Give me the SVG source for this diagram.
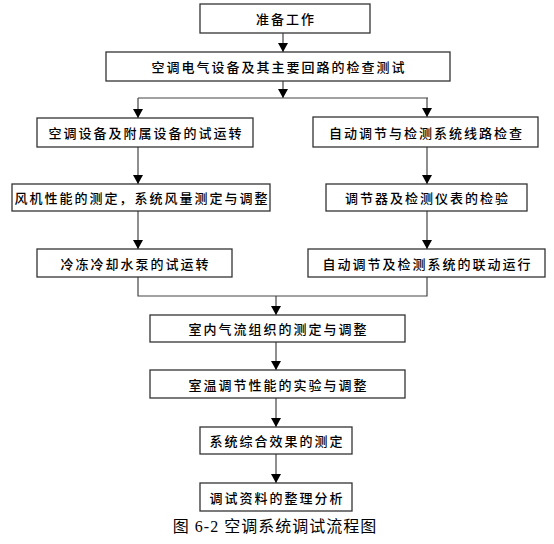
<svg xmlns="http://www.w3.org/2000/svg" width="554" height="544" viewBox="0 0 554 544">
<style>
.box{fill:#fff;stroke:#333;stroke-width:1.3}
.t{font-family:"Noto Sans CJK SC","Noto Sans CJK JP",sans-serif;font-size:13px;letter-spacing:2px;fill:#000;text-anchor:middle;dominant-baseline:central;font-weight:500}
.c{fill:none;stroke:#444;stroke-width:1.2}
.cap{font-family:"Liberation Serif","Noto Sans CJK SC",serif;font-size:16px;letter-spacing:1px;fill:#000;text-anchor:middle;dominant-baseline:central}
</style>
<defs>
<marker id="ah" markerUnits="userSpaceOnUse" markerWidth="10" markerHeight="10" viewBox="0 0 9 10" refX="9" refY="5" orient="auto"><path d="M0,0 L9,5 L0,10 z" fill="#000"/></marker>
</defs>
<rect width="554" height="544" fill="#fff"/>
<g id="connectors">
<line class="c" x1="283" y1="33" x2="283" y2="52" marker-end="url(#ah)"/>
<line class="c" x1="283" y1="81" x2="283" y2="98" marker-end="url(#ah)"/>
<line class="c" x1="138" y1="98" x2="428" y2="98"/>
<line class="c" x1="138" y1="98" x2="138" y2="118" marker-end="url(#ah)"/>
<line class="c" x1="427" y1="98" x2="427" y2="117" marker-end="url(#ah)"/>
<line class="c" x1="138" y1="147" x2="138" y2="184" marker-end="url(#ah)"/>
<line class="c" x1="427" y1="147" x2="427" y2="184" marker-end="url(#ah)"/>
<line class="c" x1="138" y1="211" x2="138" y2="249" marker-end="url(#ah)"/>
<line class="c" x1="427" y1="211" x2="427" y2="249" marker-end="url(#ah)"/>
<polyline class="c" points="138,277 138,296 427,296 427,277"/>
<line class="c" x1="276" y1="296" x2="276" y2="315" marker-end="url(#ah)"/>
<line class="c" x1="276" y1="342" x2="276" y2="370" marker-end="url(#ah)"/>
<line class="c" x1="276" y1="398" x2="276" y2="427" marker-end="url(#ah)"/>
<line class="c" x1="276" y1="454" x2="276" y2="483" marker-end="url(#ah)"/>
</g>
<g id="n1"><rect class="box" x="200" y="4" width="170" height="29"/><text class="t" x="286" y="18.5">准备工作</text></g>
<g id="n2"><rect class="box" x="106" y="52" width="344" height="29"/><text class="t" x="279" y="66.5">空调电气设备及其主要回路的检查测试</text></g>
<g id="n3"><rect class="box" x="37" y="118" width="216" height="29"/><text class="t" x="146" y="132.5">空调设备及附属设备的试运转</text></g>
<g id="n4"><rect class="box" x="313" y="117" width="225" height="30"/><text class="t" x="426.5" y="132">自动调节与检测系统线路检查</text></g>
<g id="n5"><rect class="box" x="12" y="184" width="258" height="27"/><text class="t" x="142" y="197.5">风机性能的测定，系统风量测定与调整</text></g>
<g id="n6"><rect class="box" x="326" y="184" width="201" height="27"/><text class="t" x="427.5" y="197.5">调节器及检测仪表的检验</text></g>
<g id="n7"><rect class="box" x="37" y="249" width="195" height="28"/><text class="t" x="135.5" y="263">冷冻冷却水泵的试运转</text></g>
<g id="n8"><rect class="box" x="308" y="249" width="237" height="28"/><text class="t" x="427.5" y="263">自动调节及检测系统的联动运行</text></g>
<g id="n9"><rect class="box" x="150" y="315" width="255" height="27"/><text class="t" x="278.5" y="328.5">室内气流组织的测定与调整</text></g>
<g id="n10"><rect class="box" x="150" y="370" width="255" height="28"/><text class="t" x="278.5" y="384">室温调节性能的实验与调整</text></g>
<g id="n11"><rect class="box" x="200" y="427" width="152" height="27"/><text class="t" x="277" y="440.5">系统综合效果的测定</text></g>
<g id="n12"><rect class="box" x="200" y="483" width="152" height="28"/><text class="t" x="277" y="497">调试资料的整理分析</text></g>
<text class="cap" x="275" y="526">图 6-2 空调系统调试流程图</text>
</svg>
